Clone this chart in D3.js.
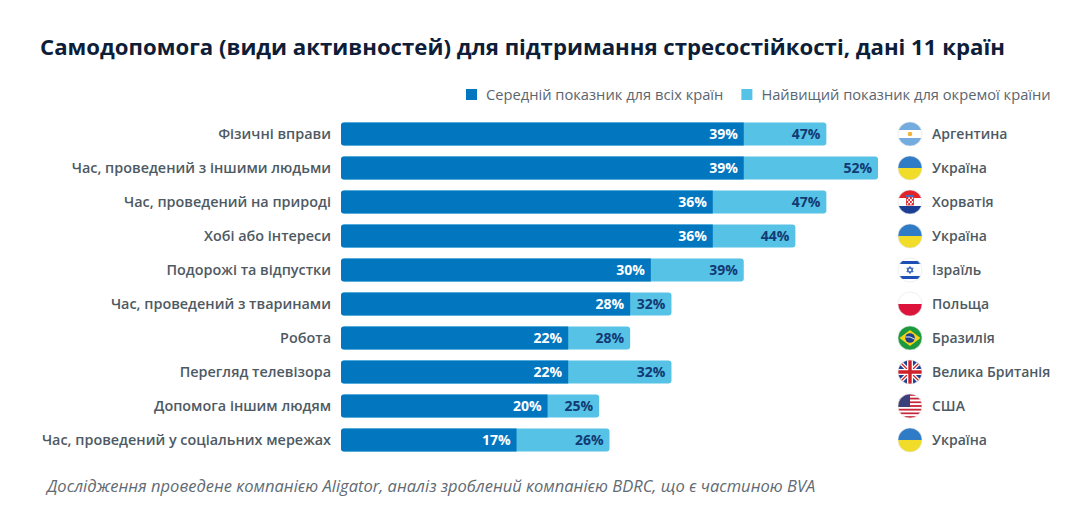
<!DOCTYPE html>
<html>
<head>
<meta charset="utf-8">
<script src="https://cdn.jsdelivr.net/npm/d3@7"></script>
<style>
  body { margin: 0; background: #fff; }
  svg { display: block; font-family: "Open Sans", "Noto Sans", sans-serif; }
</style>
</head>
<body>
<div id="chart"></div>
<script>
// data
var categories = [
  "Фізичні вправи",
  "Час, проведений з іншими людьми",
  "Час, проведений на природі",
  "Хобі або інтереси",
  "Подорожі та відпустки",
  "Час, проведений з тваринами",
  "Робота",
  "Перегляд телевізора",
  "Допомога іншим людям",
  "Час, проведений у соціальних мережах"
];
var avgValues = [39, 39, 36, 36, 30, 28, 22, 22, 20, 17];
var maxValues = [47, 52, 47, 44, 39, 32, 28, 32, 25, 26];
var countries = ["Аргентина", "Україна", "Хорватія", "Україна", "Ізраїль",
                 "Польща", "Бразилія", "Велика Британія", "США", "Україна"];
var flagCodes = ["ar", "ua", "hr", "ua", "il", "pl", "br", "gb", "us", "ua"];
var seriesNames = ["Середній показник для всіх країн", "Найвищий показник для окремої країни"];

var width = 1087, height = 525;
var dark = "#0276bf", light = "#56c2e6";

var svg = d3.select("#chart").append("svg")
  .attr("width", width)
  .attr("height", height);

var defs = svg.append("defs");

// scales
var x = d3.scaleLinear().domain([0, 52]).range([341, 878]);
var y = d3.scaleBand().domain(categories).range([117, 457]).paddingInner(0.32).paddingOuter(0.16);

// title
svg.append("text")
  .attr("x", 40)
  .attr("y", 55)
  .attr("fill", "#0e1d38")
  .style("font-size", "22.2px")
  .style("font-weight", 700)
  .text("Самодопомога (види активностей) для підтримання стресостійкості, дані 11 країн");

// legend
var legend = svg.append("g");
var lx = 466;
seriesNames.forEach(function (name, i) {
  var g = legend.append("g").attr("transform", "translate(" + lx + ",0)");
  g.append("rect").attr("x", 0).attr("y", 89).attr("width", 11).attr("height", 11)
    .attr("fill", i == 0 ? dark : light);
  var t = g.append("text").attr("x", 20).attr("y", 100)
    .attr("fill", "#5b6670").style("font-size", "14.7px")
    .text(name);
  lx += 20 + t.node().getComputedTextLength() + 18;
});

// category labels
svg.append("g").selectAll("text")
  .data(categories)
  .enter().append("text")
    .attr("x", 331)
    .attr("y", function (d) { return y(d) + y.bandwidth() / 2; })
    .attr("dy", "0.35em")
    .attr("text-anchor", "end")
    .attr("fill", "#4e5a63")
    .style("font-size", "14.4px")
    .style("font-weight", 600)
    .text(function (d) { return d; });

var rows = categories.map(function (c, i) {
  return { cat: c, avg: avgValues[i], max: maxValues[i], country: countries[i], flag: flagCodes[i] };
});

var r = 3;
// light bars (highest value)
svg.append("g").selectAll("rect")
  .data(rows)
  .enter().append("rect")
    .attr("x", x(0))
    .attr("y", function (d) { return y(d.cat); })
    .attr("width", function (d) { return x(d.max) - x(0); })
    .attr("height", y.bandwidth())
    .attr("rx", r)
    .attr("fill", light);

// dark bars (average), rounded only on the left
svg.append("g").selectAll("path")
  .data(rows)
  .enter().append("path")
    .attr("fill", dark)
    .attr("d", function (d) {
      var x0 = x(0), x1 = x(d.avg), y0 = y(d.cat), h = y.bandwidth();
      return "M" + (x0 + r) + "," + y0 + "H" + x1 + "V" + (y0 + h) + "H" + (x0 + r) +
        "A" + r + "," + r + " 0 0 1 " + x0 + "," + (y0 + h - r) +
        "V" + (y0 + r) + "A" + r + "," + r + " 0 0 1 " + (x0 + r) + "," + y0 + "Z";
    });

// value labels
svg.append("g").selectAll("text")
  .data(rows)
  .enter().append("text")
    .attr("x", function (d) { return x(d.avg) - 6; })
    .attr("y", function (d) { return y(d.cat) + y.bandwidth() / 2; })
    .attr("dy", "0.35em")
    .attr("text-anchor", "end")
    .attr("fill", "#fff")
    .style("font-size", "14px")
    .style("font-weight", 700)
    .text(function (d) { return d.avg + "%"; });

svg.append("g").selectAll("text")
  .data(rows)
  .enter().append("text")
    .attr("x", function (d) { return x(d.max) - 6; })
    .attr("y", function (d) { return y(d.cat) + y.bandwidth() / 2; })
    .attr("dy", "0.35em")
    .attr("text-anchor", "end")
    .attr("fill", "#123a73")
    .style("font-size", "14px")
    .style("font-weight", 700)
    .text(function (d) { return d.max + "%"; });

// flags
var fr = 12;
defs.append("clipPath").attr("id", "flagclip")
  .append("circle").attr("cx", 0).attr("cy", 0).attr("r", fr);

function stripes(g, cols) {
  var h = 2 * fr / cols.length;
  cols.forEach(function (c, i) {
    g.append("rect").attr("x", -fr).attr("y", -fr + i * h).attr("width", 2 * fr).attr("height", h + 0.5).attr("fill", c);
  });
}

function drawFlag(g, code) {
  if (code == "ua") {
    stripes(g, ["#2f7bc6", "#f2dc2a"]);
  } else if (code == "ar") {
    stripes(g, ["#74acdf", "#ffffff", "#74acdf"]);
    g.append("circle").attr("r", 2.3).attr("fill", "#f0b43c");
  } else if (code == "pl") {
    stripes(g, ["#ffffff", "#dc143c"]);
  } else if (code == "hr") {
    stripes(g, ["#e3232a", "#ffffff", "#1b3f94"]);
    g.append("rect").attr("x", -3.5).attr("y", -5).attr("width", 7).attr("height", 8).attr("fill", "#fff").attr("stroke", "#e3232a").attr("stroke-width", 0.8);
    for (var a = 0; a < 4; a++) for (var b = 0; b < 4; b++) {
      if ((a + b) % 2 == 0) g.append("rect").attr("x", -3.5 + a * 1.75).attr("y", -5 + b * 2).attr("width", 1.75).attr("height", 2).attr("fill", "#e3232a");
    }
    g.append("rect").attr("x", -4).attr("y", -7).attr("width", 8).attr("height", 2).attr("fill", "#3a6fc2");
  } else if (code == "il") {
    g.append("rect").attr("x", -fr).attr("y", -fr).attr("width", 2 * fr).attr("height", 2 * fr).attr("fill", "#fff");
    g.append("rect").attr("x", -fr).attr("y", -9).attr("width", 2 * fr).attr("height", 3).attr("fill", "#1e4fb4");
    g.append("rect").attr("x", -fr).attr("y", 6).attr("width", 2 * fr).attr("height", 3).attr("fill", "#1e4fb4");
    var tri = function (s) { return d3.range(3).map(function (k) { var ang = -Math.PI / 2 + s + k * 2 * Math.PI / 3; return [3.6 * Math.cos(ang), 3.6 * Math.sin(ang)]; }); };
    g.append("polygon").attr("points", tri(0).join(" ")).attr("fill", "none").attr("stroke", "#1e4fb4").attr("stroke-width", 0.9);
    g.append("polygon").attr("points", tri(Math.PI).join(" ")).attr("fill", "none").attr("stroke", "#1e4fb4").attr("stroke-width", 0.9);
  } else if (code == "br") {
    g.append("rect").attr("x", -fr).attr("y", -fr).attr("width", 2 * fr).attr("height", 2 * fr).attr("fill", "#1a9a3c");
    g.append("polygon").attr("points", "-10.5,0 0,-8 10.5,0 0,8").attr("fill", "#f7d117");
    g.append("circle").attr("r", 4.8).attr("fill", "#1f3f8f");
    g.append("path").attr("d", "M-4.6,-1 Q0,-2.2 4.6,1.2").attr("stroke", "#fff").attr("stroke-width", 0.9).attr("fill", "none");
  } else if (code == "gb") {
    g.append("rect").attr("x", -fr).attr("y", -fr).attr("width", 2 * fr).attr("height", 2 * fr).attr("fill", "#1f3f8f");
    g.append("path").attr("d", "M-12,-12L12,12M12,-12L-12,12").attr("stroke", "#fff").attr("stroke-width", 4);
    g.append("path").attr("d", "M-12,-12L12,12M12,-12L-12,12").attr("stroke", "#d0212b").attr("stroke-width", 1.3);
    g.append("path").attr("d", "M0,-12V12M-12,0H12").attr("stroke", "#fff").attr("stroke-width", 6);
    g.append("path").attr("d", "M0,-12V12M-12,0H12").attr("stroke", "#d0212b").attr("stroke-width", 3.4);
  } else if (code == "us") {
    var h = 2 * fr / 13;
    for (var i = 0; i < 13; i++) {
      g.append("rect").attr("x", -fr).attr("y", -fr + i * h).attr("width", 2 * fr).attr("height", h + 0.3)
        .attr("fill", i % 2 == 0 ? "#c8253a" : "#fff");
    }
    g.append("rect").attr("x", -fr).attr("y", -fr).attr("width", fr).attr("height", 7 * h).attr("fill", "#3b3f7a");
  }
}

var flagRows = svg.append("g").selectAll("g")
  .data(rows)
  .enter().append("g")
    .attr("transform", function (d) { return "translate(910," + (y(d.cat) + y.bandwidth() / 2) + ")"; });

flagRows.each(function (d) {
  var g = d3.select(this);
  var inner = g.append("g").attr("clip-path", "url(#flagclip)");
  drawFlag(inner, d.flag);
  g.append("circle").attr("r", fr).attr("fill", "none").attr("stroke", "#e3e6e8").attr("stroke-width", 0.6);
});

flagRows.append("text")
  .attr("x", 22)
  .attr("dy", "0.35em")
  .attr("fill", "#4e5a63")
  .style("font-size", "14px")
  .style("font-weight", 600)
  .text(function (d) { return d.country; });

// footer
svg.append("text")
  .attr("x", 47)
  .attr("y", 492)
  .attr("fill", "#5f6b73")
  .style("font-size", "16.5px")
  .style("font-style", "italic")
  .text("Дослідження проведене компанією Aligator, аналіз зроблений компанією BDRC, що є частиною BVA");
</script>
</body>
</html>
